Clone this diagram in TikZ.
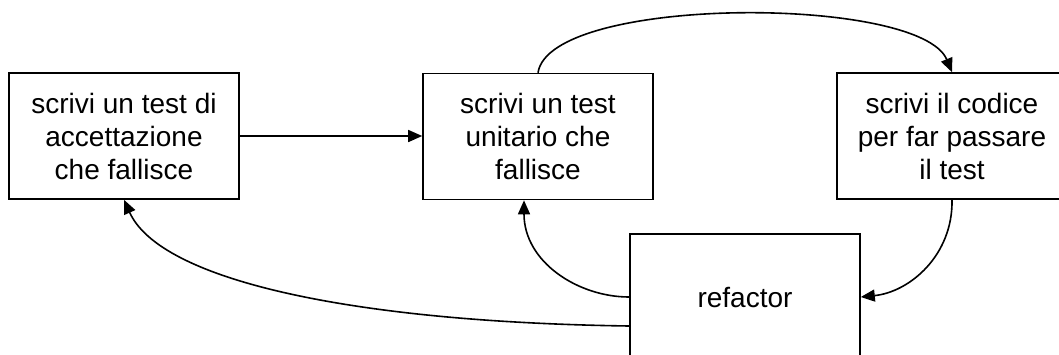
\documentclass[tikz,border=0pt]{standalone}
\usepackage{fontspec}
\setmainfont{Liberation Sans}
\usetikzlibrary{arrows.meta}
\begin{document}
\begin{tikzpicture}[x=1pt,y=-1pt,
  box/.style={draw=black,line width=1.6pt,minimum width=230pt,minimum height=126pt,align=center,inner sep=0pt,font=\fontsize{28}{33}\selectfont},
  conn/.style={line width=1.6pt,-{Triangle[length=14pt,width=12pt]}}]
\useasboundingbox (0,0) rectangle (1059,354);
\clip (0,0) rectangle (1059,354);
\node[box] (A) at (124,136) {scrivi un test di\\accettazione\\che fallisce};
\node[box] (B) at (538,136.5) {scrivi un test\\unitario che\\fallisce};
\node[box] (C) at (952,136) {scrivi il codice\\per far passare\\il test};
\node[box] (D) at (745,297) {refactor};
\draw[conn] (A.east) -- (A.east -| B.west);
\draw[conn] (B.north) .. controls (550,-5) and (920,-5) .. (C.north);
\draw[conn] (C.south) .. controls (953,255) and (910,292) .. (D.east);
\draw[conn] (D.west) .. controls (578,297) and (524,262) .. ([xshift=-14pt]B.south);
\draw[conn] ([yshift=-29pt]D.west) .. controls (350,322) and (160,280) .. (A.south);
\end{tikzpicture}
\end{document}
